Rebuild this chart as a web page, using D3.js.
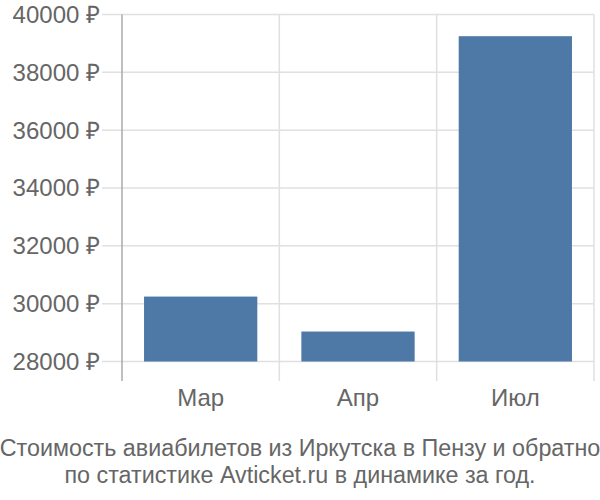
<!DOCTYPE html>
<html>
<head>
<meta charset="utf-8">
<script src="https://cdn.jsdelivr.net/npm/d3@7"></script>
<style>
  html, body { margin: 0; padding: 0; background: #fff; }
  svg { display: block; }
  text { font-family: "Liberation Sans", Arial, sans-serif; fill: #666; }
</style>
</head>
<body>
<svg id="chart" width="600" height="500"></svg>
<script>
const categories = ["Мар", "Апр", "Июл"];
const values = [30245, 29036, 39250];
const yTicks = [28000, 30000, 32000, 34000, 36000, 38000, 40000];
const titleLines = ["Стоимость авиабилетов из Иркутска в Пензу и обратно", "по статистике Avticket.ru в динамике за год."];

const svg = d3.select("#chart");
const pLeft = 122, pRight = 594, pTop = 14.5, pBottom = 361.5;

const x = d3.scaleBand().domain(categories).range([pLeft, pRight]).paddingInner(0.28).paddingOuter(0.14);
const y = d3.scaleLinear().domain([28000, 40000]).range([pBottom, pTop]);

// horizontal gridlines
svg.append("g").selectAll("line").data(yTicks).join("line")
  .attr("x1", 102).attr("x2", pRight)
  .attr("y1", d => y(d)).attr("y2", d => y(d))
  .attr("stroke", "#e0e0e0").attr("stroke-width", 1.5);

// vertical gridlines at band boundaries
const bounds = categories.map((c, i) => pLeft + (i + 1) * x.step());
svg.append("g").selectAll("line").data(bounds).join("line")
  .attr("x1", d => d).attr("x2", d => d)
  .attr("y1", pTop).attr("y2", 381)
  .attr("stroke", "#e0e0e0").attr("stroke-width", 1.5);

// bars
svg.append("g").selectAll("rect").data(categories).join("rect")
  .attr("x", d => x(d))
  .attr("width", x.bandwidth())
  .attr("y", (d, i) => y(values[i]))
  .attr("height", (d, i) => y(28000) - y(values[i]))
  .attr("fill", "#4e79a7");

// y axis line
svg.append("line").attr("x1", pLeft).attr("x2", pLeft).attr("y1", pTop).attr("y2", 381)
  .attr("stroke", "#aaa").attr("stroke-width", 1.5);

// y tick labels
svg.append("g").selectAll("text").data(yTicks).join("text")
  .attr("x", 100).attr("y", d => y(d))
  .attr("dy", "0.35em")
  .attr("text-anchor", "end")
  .attr("font-size", 24)
  .text(d => d + " ₽");

// x labels
svg.append("g").selectAll("text").data(categories).join("text")
  .attr("x", d => x(d) + x.bandwidth() / 2)
  .attr("y", 406)
  .attr("text-anchor", "middle")
  .attr("font-size", 24)
  .text(d => d);

// title
svg.append("g").selectAll("text").data(titleLines).join("text")
  .attr("x", 300)
  .attr("y", (d, i) => 456 + i * 27)
  .attr("text-anchor", "middle")
  .attr("font-size", 23.3)
  .text(d => d);
</script>
</body>
</html>
